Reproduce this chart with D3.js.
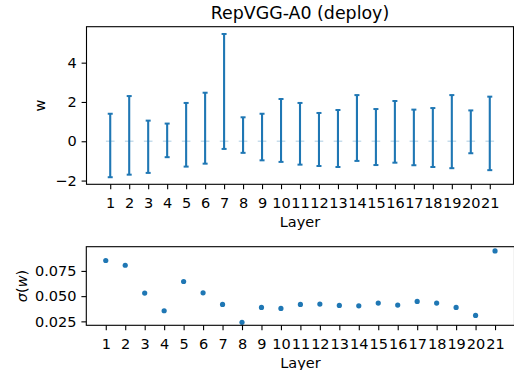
<!DOCTYPE html>
<html>
<head>
<meta charset="utf-8">
<script src="https://cdn.jsdelivr.net/npm/d3@7"></script>
<style>
  html, body { margin: 0; padding: 0; background: #fff; }
  svg { display: block; }
  text { font-family: "DejaVu Sans", sans-serif; fill: #000; }
</style>
</head>
<body>
<svg id="chart" width="514" height="370"></svg>
<script>
// Layers of RepVGG-A0 (deploy)
const layers = d3.range(1, 22);
// Weight range per layer (min / max)
const wMax = [1.40, 2.30, 1.05, 0.90, 1.95, 2.47, 5.46, 1.22, 1.40, 2.15,
              1.95, 1.44, 1.59, 2.35, 1.64, 2.05, 1.61, 1.69, 2.35, 1.57, 2.27];
const wMin = [-1.83, -1.70, -1.61, -0.81, -1.29, -1.14, -0.39, -0.59, -0.97, -1.05,
              -1.19, -1.26, -1.31, -1.00, -1.21, -1.09, -1.22, -1.31, -1.37, -0.61, -1.47];
// Weight standard deviation per layer
const wStd = [0.0853, 0.0806, 0.0530, 0.0355, 0.0645, 0.0533, 0.0418, 0.0240, 0.0388, 0.0378,
              0.0418, 0.0421, 0.0408, 0.0404, 0.0431, 0.0411, 0.0448, 0.0431, 0.0388, 0.0309, 0.0948];
const wTicks = [-2, 0, 2, 4];
const stdTicks = [0.025, 0.050, 0.075];

const blue = "#1f77b4";
const svg = d3.select("#chart");
const fs = 14.5;

function drawAxes(g, x, y, yTicks, yFmt, top, bottom, left, right) {
  const xa = g.append("g").attr("transform", `translate(0,${bottom})`)
    .call(d3.axisBottom(x).tickValues(layers).tickSize(4.9).tickPadding(4.9).tickFormat(d3.format("d")));
  const ya = g.append("g").attr("transform", `translate(${left},0)`)
    .call(d3.axisLeft(y).tickValues(yTicks).tickSize(4.9).tickPadding(4.9).tickFormat(yFmt));
  [xa, ya].forEach(a => {
    a.select(".domain").remove();
    a.selectAll(".tick line").attr("stroke", "#000").attr("stroke-width", 1.1);
    a.selectAll(".tick text").style("font-size", fs + "px").attr("fill", "#000");
  });
  xa.selectAll(".tick text").attr("dy", "0.93em");
  g.append("rect").attr("x", left).attr("y", top)
    .attr("width", right - left).attr("height", bottom - top)
    .attr("fill", "none").attr("stroke", "#000").attr("stroke-width", 1.1);
}

// ---- Top panel: weight ranges as error bars ----
const T = { top: 26.7, bottom: 184.3, left: 86.5, right: 513.5 };
const xTop = d3.scaleLinear().domain([-0.25, 22.25]).range([T.left, T.right]);
const yTop = d3.scaleLinear().domain([-2.19, 5.83]).range([T.bottom, T.top]);
const gTop = svg.append("g");

const bars = gTop.append("g").selectAll("g").data(layers).join("g");
bars.append("line")
  .attr("x1", d => xTop(d) - 4.3).attr("x2", d => xTop(d) + 4.3)
  .attr("y1", yTop(0)).attr("y2", yTop(0))
  .attr("stroke", blue).attr("stroke-opacity", 0.25).attr("stroke-width", 1.5);
bars.append("line")
  .attr("x1", d => xTop(d)).attr("x2", d => xTop(d))
  .attr("y1", (d, i) => yTop(wMin[i])).attr("y2", (d, i) => yTop(wMax[i]))
  .attr("stroke", blue).attr("stroke-width", 2.1);
bars.append("line")
  .attr("x1", d => xTop(d) - 2.5).attr("x2", d => xTop(d) + 2.5)
  .attr("y1", (d, i) => yTop(wMax[i])).attr("y2", (d, i) => yTop(wMax[i]))
  .attr("stroke", blue).attr("stroke-width", 2);
bars.append("line")
  .attr("x1", d => xTop(d) - 2.5).attr("x2", d => xTop(d) + 2.5)
  .attr("y1", (d, i) => yTop(wMin[i])).attr("y2", (d, i) => yTop(wMin[i]))
  .attr("stroke", blue).attr("stroke-width", 2);

drawAxes(gTop, xTop, yTop, wTicks, d => d3.format("d")(d).replace("-", "\u2212"),
  T.top, T.bottom, T.left, T.right);

gTop.append("text").attr("x", (T.left + T.right) / 2).attr("y", 19)
  .attr("text-anchor", "middle").style("font-size", "17.4px").text("RepVGG-A0 (deploy)");
gTop.append("text").attr("x", (T.left + T.right) / 2).attr("y", 226.7)
  .attr("text-anchor", "middle").style("font-size", fs + "px").text("Layer");
gTop.append("text").attr("transform", `translate(45,${(T.top + T.bottom) / 2}) rotate(-90)`)
  .attr("text-anchor", "middle").style("font-size", fs + "px").text("w");

// ---- Bottom panel: standard deviation per layer ----
const B = { top: 246.7, bottom: 325.3, left: 86.3, right: 514.5 };
const xBot = d3.scaleLinear().domain([0, 22]).range([B.left, B.right]);
const yBot = d3.scaleLinear().domain([0.0211, 0.099]).range([B.bottom, B.top]);
const gBot = svg.append("g");

gBot.append("g").selectAll("circle").data(layers).join("circle")
  .attr("cx", d => xBot(d)).attr("cy", (d, i) => yBot(wStd[i]))
  .attr("r", 2.6).attr("fill", blue);

drawAxes(gBot, xBot, yBot, stdTicks, d3.format(".3f"), B.top, B.bottom, B.left, B.right);

gBot.append("text").attr("x", (B.left + B.right) / 2).attr("y", 367.7)
  .attr("text-anchor", "middle").style("font-size", fs + "px").text("Layer");
const yl = gBot.append("text")
  .attr("transform", `translate(27,${(B.top + B.bottom) / 2}) rotate(-90)`)
  .attr("text-anchor", "middle").style("font-size", fs + "px");
yl.append("tspan").style("font-style", "italic").text("σ");
yl.append("tspan").text("(");
yl.append("tspan").style("font-style", "italic").text("w");
yl.append("tspan").text(")");
</script>
</body>
</html>
